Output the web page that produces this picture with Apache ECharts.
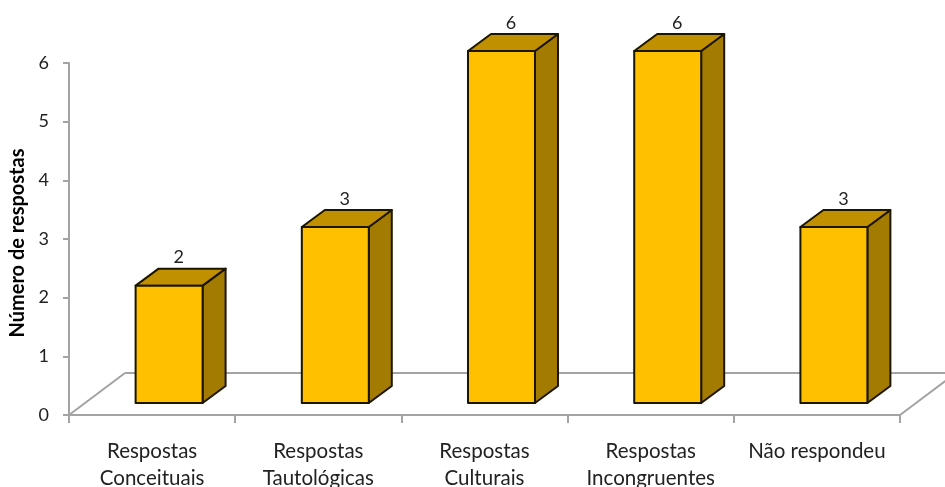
<!DOCTYPE html>
<html>
<head>
<meta charset="utf-8">
<script src="https://cdn.jsdelivr.net/npm/echarts@6/dist/echarts.min.js"></script>
<style>html,body{margin:0;padding:0;background:#fff}#chart{width:945px;height:487px}</style>
</head>
<body>
<div id="chart"></div>
<script>
// Respostas por categoria
const categories = ['Respostas\nConceituais', 'Respostas\nTautológicas', 'Respostas\nCulturais', 'Respostas\nIncongruentes', 'Não respondeu'];
const respostas = [2, 3, 6, 6, 3];
const yTitle = 'Número de respostas';

// Pseudo-3D look: floor depth, bar placement on the floor and bar depth, in pixels
const floorDx = 56, floorDy = -42;
const barDx = 17, barDy = -12;
const depthDx = 23, depthDy = -17;
const lineGray = '#a3a3a3';
const edge = '#1c1600';
const font = 'Lato';

function renderFloor(params, api) {
  const c = params.coordSys;
  const x0 = c.x, x1 = c.x + c.width, y = c.y + c.height;
  const far = 80;
  const line = (a, b, d, e) => ({
    type: 'line',
    shape: { x1: a, y1: b, x2: d, y2: e },
    style: { stroke: lineGray, lineWidth: 2, fill: null }
  });
  return {
    type: 'group',
    children: [
      line(x0, y, x0 + floorDx, y + floorDy),
      line(x0 + floorDx, y + floorDy, x1 + far, y + floorDy),
      line(x1, y, x1 + floorDx, y + floorDy)
    ]
  };
}

function renderBar(params, api) {
  const v = api.value(1);
  const top = api.coord([api.value(0), v]);
  const base = api.coord([api.value(0), 0]);
  const w = api.size([1, 0])[0] * 0.403;
  const l = top[0] + barDx - w / 2, r = l + w;
  const t = top[1] + barDy, b = base[1] + barDy;
  const stroke = { stroke: edge, lineWidth: 2, lineJoin: 'round' };
  const poly = (points, fill) => ({
    type: 'polygon',
    shape: { points },
    style: Object.assign({ fill }, stroke)
  });
  return {
    type: 'group',
    children: [
      poly([[r, t], [r + depthDx, t + depthDy], [r + depthDx, b + depthDy], [r, b]], '#A37B00'),
      poly([[l, t], [l + depthDx, t + depthDy], [r + depthDx, t + depthDy], [r, t]], '#C09000'),
      poly([[l, t], [r, t], [r, b], [l, b]], '#FFC000'),
      {
        type: 'text',
        style: {
          x: (l + r) / 2 + 9.5, y: t + depthDy - 11,
          text: String(v), fill: '#222', font: '18px "' + font + '"',
          align: 'center', verticalAlign: 'middle'
        }
      }
    ]
  };
}

const chart = echarts.init(document.getElementById('chart'), null, { renderer: 'canvas' });
chart.setOption({
  animation: false,
  backgroundColor: '#fff',
  grid: { left: 69, right: 45, top: 63, bottom: 72, containLabel: false, outerBoundsMode: 'none' },
  xAxis: {
    type: 'category',
    data: categories,
    boundaryGap: true,
    axisLine: { lineStyle: { color: lineGray, width: 2 } },
    axisTick: { show: true, alignWithLabel: false, length: 8, lineStyle: { color: lineGray, width: 2 } },
    axisLabel: { color: '#222', fontFamily: font, fontSize: 20.5, lineHeight: 27, margin: 23, interval: 0 }
  },
  yAxis: {
    type: 'value',
    min: 0, max: 6, interval: 1,
    name: yTitle,
    nameLocation: 'middle',
    nameMoveOverlap: false,
    nameGap: 41,
    nameRotate: 90,
    nameTextStyle: { color: '#000', fontFamily: font, fontWeight: 'bold', fontSize: 20, padding: [0, 8, 0, 0] },
    splitLine: { show: false },
    axisLine: { show: true, lineStyle: { color: lineGray, width: 2 } },
    axisTick: { show: true, length: 6, lineStyle: { color: lineGray, width: 2 } },
    axisLabel: { color: '#222', fontFamily: font, fontSize: 18, margin: 20, padding: [3, 0, 0, 0] }
  },
  series: [
    {
      type: 'custom', name: 'piso', silent: true, clip: false, z: 1,
      coordinateSystem: 'cartesian2d',
      renderItem: renderFloor,
      data: [[0, 0]]
    },
    {
      type: 'custom', name: 'Respostas', silent: true, clip: false, z: 2,
      coordinateSystem: 'cartesian2d',
      encode: { x: 0, y: 1 },
      renderItem: renderBar,
      data: respostas.map((v, i) => [i, v])
    }
  ]
});
</script>
</body>
</html>
